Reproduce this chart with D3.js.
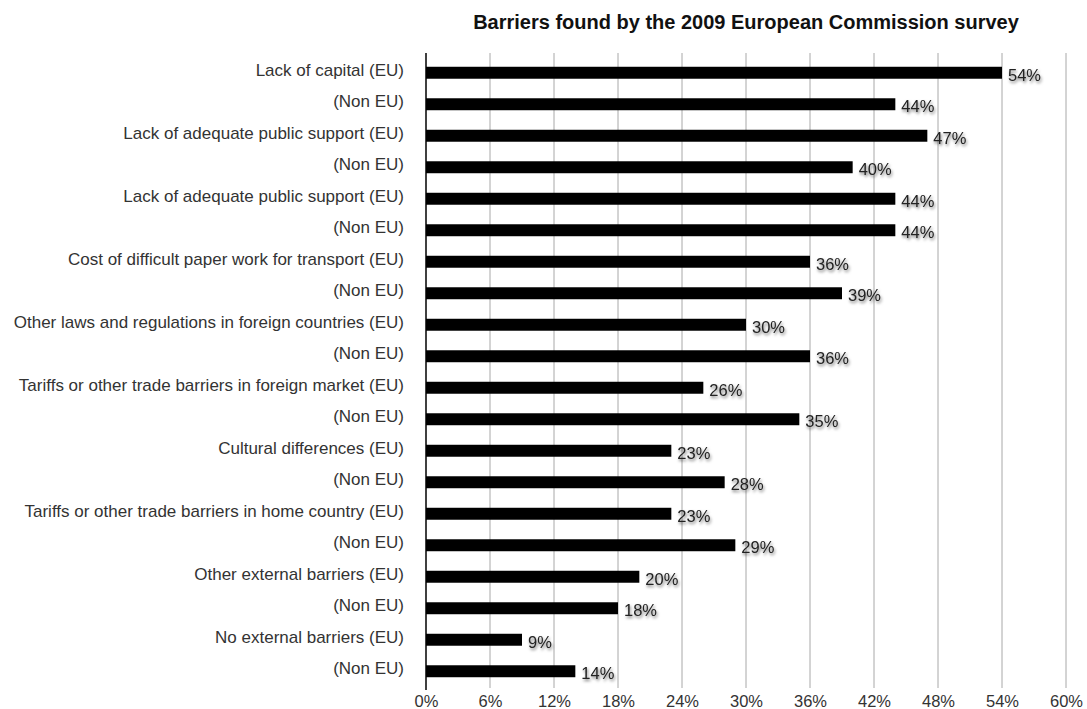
<!DOCTYPE html>
<html>
<head>
<meta charset="utf-8">
<script src="https://cdn.jsdelivr.net/npm/d3@7"></script>
<style>
  html, body { margin: 0; padding: 0; background: #fff; }
  svg { display: block; font-family: "Liberation Sans", Arial, Helvetica, sans-serif; }
</style>
</head>
<body>
<svg id="chart" width="1087" height="709"></svg>
<script>
// Survey barriers, EU and non-EU respondents, in chart order (top to bottom)
const categories = [
  "Lack of capital (EU)",
  "(Non EU)",
  "Lack of adequate public support (EU)",
  "(Non EU) ",
  "Lack of adequate public support (EU) ",
  "(Non EU)  ",
  "Cost of difficult paper work for transport (EU)",
  "(Non EU)   ",
  "Other laws and regulations in foreign countries (EU)",
  "(Non EU)    ",
  "Tariffs or other trade barriers in foreign market (EU)",
  "(Non EU)     ",
  "Cultural differences (EU)",
  "(Non EU)      ",
  "Tariffs or other trade barriers in home country (EU)",
  "(Non EU)       ",
  "Other external barriers (EU)",
  "(Non EU)        ",
  "No external barriers (EU)",
  "(Non EU)         "
];
const values = [54, 44, 47, 40, 44, 44, 36, 39, 30, 36, 26, 35, 23, 28, 23, 29, 20, 18, 9, 14];
const tickValues = [0, 6, 12, 18, 24, 30, 36, 42, 48, 54, 60];
const title = "Barriers found by the 2009 European Commission survey";

const svg = d3.select("#chart");

const x = d3.scaleLinear().domain([0, 60]).range([426, 1066]);
const y = d3.scaleBand().domain(categories).range([57, 687]).paddingInner(0.62).paddingOuter(0.31);

const defs = svg.append("defs");
const shadow = defs.append("filter").attr("id", "labelShadow")
  .attr("x", "-30%").attr("y", "-50%").attr("width", "160%").attr("height", "200%");
shadow.append("feDropShadow")
  .attr("dx", 1).attr("dy", 2).attr("stdDeviation", 1.6)
  .attr("flood-color", "#000").attr("flood-opacity", 0.55);

// Title
svg.append("text")
  .attr("x", 746).attr("y", 29)
  .attr("text-anchor", "middle")
  .attr("font-size", 20).attr("font-weight", "bold").attr("fill", "#111")
  .text(title);

// Vertical gridlines
svg.append("g")
  .selectAll("line")
  .data(tickValues.slice(1))
  .join("line")
  .attr("x1", d => x(d)).attr("x2", d => x(d))
  .attr("y1", 53).attr("y2", 688)
  .attr("stroke", "#a8a8a8").attr("stroke-width", 1);

// Bottom axis tick labels
const xAxis = d3.axisBottom(x).tickValues(tickValues).tickFormat(d => d + "%").tickSize(0).tickPadding(0);
const gx = svg.append("g").attr("transform", "translate(0,707)").call(xAxis);
gx.select(".domain").remove();
gx.selectAll("text")
  .attr("font-size", 16.5).attr("fill", "#333")
  .attr("font-family", "Liberation Sans, Arial, sans-serif")
  .attr("dy", "0");

// Left axis category labels
const yAxis = d3.axisLeft(y).tickSize(0).tickPadding(22).tickFormat(d => d.trim());
const gy = svg.append("g").attr("transform", `translate(${x(0)},0)`).call(yAxis);
gy.select(".domain").remove();
gy.selectAll("text")
  .attr("font-size", 17).attr("fill", "#333")
  .attr("font-family", "Liberation Sans, Arial, sans-serif")
  .attr("dy", "0.18em");

// Bars
svg.append("g")
  .selectAll("rect")
  .data(values)
  .join("rect")
  .attr("x", x(0))
  .attr("y", (d, i) => y(categories[i]))
  .attr("width", d => x(d) - x(0))
  .attr("height", y.bandwidth())
  .attr("fill", "#000");

// Value labels
svg.append("g")
  .selectAll("text")
  .data(values)
  .join("text")
  .attr("x", d => x(d) + 6)
  .attr("y", (d, i) => y(categories[i]) + y.bandwidth() / 2 + 8)
  .attr("font-size", 16.5).attr("fill", "#222")
  .attr("filter", "url(#labelShadow)")
  .text(d => d + "%");

// Vertical axis line
svg.append("line")
  .attr("x1", x(0)).attr("x2", x(0))
  .attr("y1", 53).attr("y2", 690)
  .attr("stroke", "#000").attr("stroke-width", 1.5);
</script>
</body>
</html>
